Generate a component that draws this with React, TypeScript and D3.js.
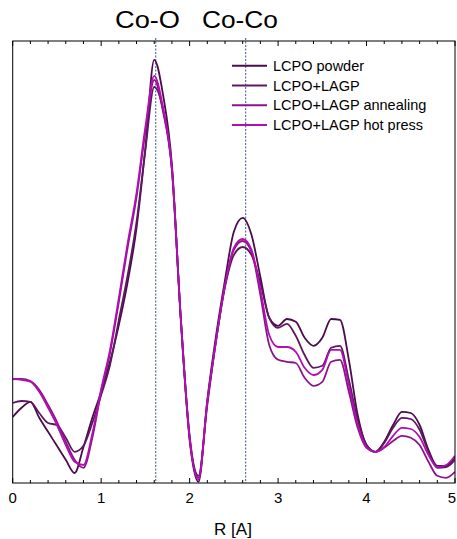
import React from 'react'
import * as d3 from 'd3'

// R grid [A]
const rValues = [
  0, 0.1, 0.2, 0.3, 0.4, 0.5, 0.6, 0.7, 0.8, 0.9,
  1, 1.1, 1.2, 1.3, 1.4, 1.5, 1.6, 1.7, 1.8, 1.9,
  2, 2.1, 2.2, 2.3, 2.4, 2.5, 2.6, 2.7, 2.8, 2.9,
  3, 3.1, 3.2, 3.3, 3.4, 3.5, 3.6, 3.7, 3.8, 3.9,
  4, 4.1, 4.2, 4.3, 4.4, 4.5, 4.6, 4.7, 4.8, 4.9, 5
]

// |chi(R)|, arbitrary units
const powder = [
  16.5, 18.8, 20.3, 16.3, 12.8, 9.3, 5.8, 2.5, 9, 16.3,
  22.8, 30.3, 39.5, 50.3, 63.8, 83.8, 105.8, 97, 79.5, 40.8,
  10.8, 0.3, 20.8, 37, 50.8, 62.8, 66.3, 62, 51.5, 41.3,
  39.3, 41, 40.3, 36.3, 34.3, 36.3, 41, 40.8, 30.8, 17,
  9.5, 7.8, 10.3, 14.5, 17.8, 17.5, 14.5, 8.3, 4.3, 4.3, 6.5
]
const lagp = [
  20, 20.5, 20.3, 17.5, 15, 14.5, 11.3, 7.8, 9.3, 15,
  22, 29.5, 40.8, 52, 65.3, 83.3, 99, 93.3, 78.3, 41.3,
  11.8, 1.8, 19.5, 35.8, 49, 57, 59, 57, 50, 41.3,
  38.8, 39.8, 36.8, 32, 28.8, 29.3, 33.8, 34.3, 25.8, 15.8,
  9.5, 7.8, 10, 13.8, 16.3, 16, 13.3, 7.8, 3.8, 4, 5.8
]
const annealing = [
  26, 26, 25.5, 23.3, 19.5, 15.3, 10.3, 5.8, 3.8, 11.3,
  22.8, 32.5, 45.3, 59, 71.5, 87.8, 100.8, 92.8, 78.3, 41.3,
  11.3, 1.3, 20.3, 35.8, 49.5, 58.3, 60.5, 57.8, 47, 34.5,
  30.8, 30.3, 30, 26.3, 24.3, 25.3, 30.3, 30.8, 22.8, 13.8,
  8.8, 7.8, 8.8, 10.5, 11.8, 11.3, 9.5, 5.3, 1.8, 1.3, 2.8
]
const hotPress = [
  26, 25.8, 25.3, 22.8, 18.8, 14.5, 9.5, 5.3, 4.5, 12.3,
  23.5, 33.3, 46.3, 60, 72.5, 89, 101.8, 93.8, 78.8, 41.3,
  11.3, 0.8, 20.3, 35.8, 49.5, 58.8, 61, 58.3, 48.3, 37,
  34, 34, 32.8, 28.8, 27, 28.3, 33.3, 33.3, 24.5, 14.5,
  9, 7.8, 9, 11.8, 13.8, 13.5, 11.5, 7, 4, 4.5, 6.8
]

const seriesNames = ['LCPO powder', 'LCPO+LAGP', 'LCPO+LAGP annealing', 'LCPO+LAGP hot press']
const seriesColors = ['#4a0c4c', '#5e1860', '#8c128c', '#b010b0']
const seriesData = [powder, lagp, annealing, hotPress]

const xTicks = [0, 1, 2, 3, 4, 5]
const markers = [
  { r: 1.617, label: 'Co-O', cx: 147.5, len: 65 },
  { r: 2.634, label: 'Co-Co', cx: 240, len: 76 },
]

const W = 457
const H = 539
const font = 'Arial, "Liberation Sans", sans-serif'

export default function App() {
  const x = d3.scaleLinear().domain([0, 5]).range([12.7, 455])
  const y = d3.scaleLinear().domain([0, 110.5]).range([483, 41])
  const [y0, y1] = y.range()

  const line = d3.line<number>()
    .x((_, i) => x(rValues[i]))
    .y(d => y(d))
    .curve(d3.curveMonotoneX)

  const minor = d3.range(0, 5.001, 0.2)

  return (
    <svg width={W} height={H} style={{ position: 'absolute', left: 0, top: 0, background: '#fff' }}
      fontFamily={font}>
      <defs>
        <clipPath id="plot">
          <rect x={x(0)} y={y1} width={x(5) - x(0)} height={y0 - y1 + 3} />
        </clipPath>
      </defs>

      {/* marker lines */}
      {markers.map(m => (
        <g key={m.label}>
          <line x1={x(m.r)} x2={x(m.r)} y1={y1 - 3} y2={y0} stroke="#3a5684"
            strokeWidth={1} strokeDasharray="2,1.5" />
          <text x={m.cx} y={28} fontSize={23} textAnchor="middle" textLength={m.len}
            lengthAdjust="spacingAndGlyphs">{m.label}</text>
        </g>
      ))}

      {/* curves */}
      <g clipPath="url(#plot)">
        {seriesData.map((d, i) => (
          <path key={seriesNames[i]} d={line(d) || ''} fill="none" stroke={seriesColors[i]}
            strokeWidth={1.8} strokeLinejoin="round" />
        ))}
      </g>

      {/* frame */}
      <rect x={x(0)} y={y1} width={x(5) - x(0)} height={y0 - y1} fill="none" stroke="#000" strokeWidth={1} />

      {/* ticks */}
      {minor.map(t => {
        const major = Math.abs(t - Math.round(t)) < 1e-6
        const len = major ? 5 : 3
        return (
          <g key={t}>
            <line x1={x(t)} x2={x(t)} y1={y0} y2={y0 - len} stroke="#000" />
            <line x1={x(t)} x2={x(t)} y1={y1} y2={y1 + len} stroke="#000" />
          </g>
        )
      })}
      {xTicks.map(t => (
        <text key={t} x={t === 5 ? W - 1 : x(t)} y={503} fontSize={15}
          textAnchor={t === 5 ? 'end' : 'middle'}>{t}</text>
      ))}
      <text x={233} y={535} fontSize={17} textAnchor="middle">R [A]</text>

      {/* legend */}
      {seriesNames.map((name, i) => {
        const ly = 65.7 + i * 19.8
        return (
          <g key={name}>
            <line x1={232} x2={267} y1={ly} y2={ly} stroke={seriesColors[i]} strokeWidth={2} />
            <text x={273} y={ly + 5} fontSize={14.5}>{name}</text>
          </g>
        )
      })}
    </svg>
  )
}
